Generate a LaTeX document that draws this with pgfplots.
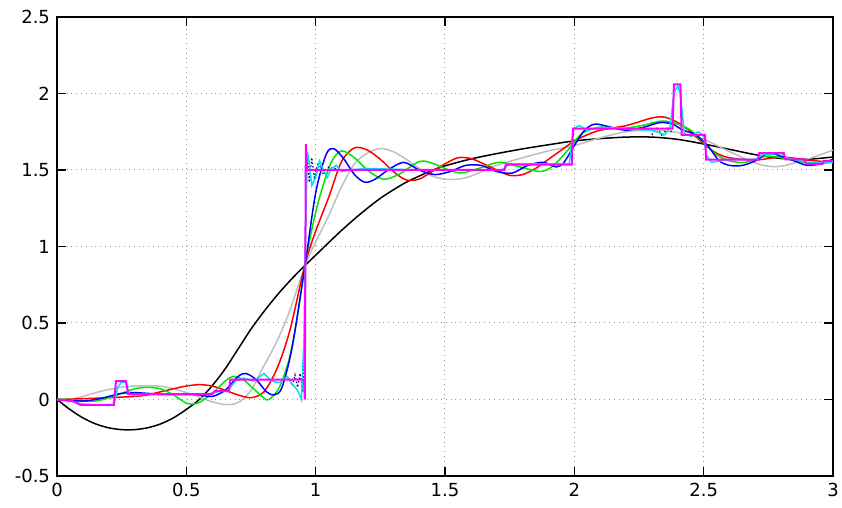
\documentclass[border=0pt]{standalone}
\usepackage{fontspec}
\setmainfont{DejaVu Sans}
\usepackage{pgfplots}
\pgfplotsset{compat=1.18}
\definecolor{lgray}{RGB}{190,190,190}
\definecolor{lgreen}{RGB}{0,230,0}
\definecolor{lcyan}{RGB}{0,225,240}
\definecolor{navy}{RGB}{0,0,128}
\definecolor{pmag}{RGB}{255,0,255}
\definecolor{pblue}{RGB}{0,0,255}
\definecolor{pred}{RGB}{255,0,0}
\begin{document}
\begin{tikzpicture}
\path[use as bounding box] (-28.5pt,-16pt) rectangle (392.5pt,238pt);
\begin{axis}[
  scale only axis,
  width=388pt, height=229.5pt,
  xmin=0, xmax=3, ymin=-0.5, ymax=2.5,
  xtick={0,0.5,...,3}, ytick={-0.5,0,...,2.5},
  tick align=inside,
  major tick length=4.5pt,
  grid=major,
  grid style={dotted, gray!80, line width=0.5pt},
  axis line style={line width=0.7pt},
  tick style={black, line width=0.6pt},
  ticklabel style={font=\fontsize{9}{11}\selectfont},
  /pgf/number format/assume math mode=true,
  every axis plot/.append style={line width=0.75pt},
]
% black
\addplot[black, smooth] coordinates {
(0,0) (0.05,-0.065) (0.1,-0.12) (0.15,-0.16) (0.2,-0.185) (0.25,-0.197) (0.3,-0.197)
(0.35,-0.185) (0.4,-0.16) (0.45,-0.12) (0.5,-0.065) (0.55,0.0) (0.6,0.09) (0.65,0.2)
(0.7,0.33) (0.75,0.46) (0.8,0.575) (0.85,0.68) (0.9,0.775) (0.95,0.862) (1.0,0.943)
(1.05,1.025) (1.1,1.105) (1.15,1.18) (1.2,1.25) (1.25,1.315) (1.3,1.37) (1.35,1.42)
(1.4,1.46) (1.45,1.497) (1.5,1.527) (1.6,1.572) (1.7,1.607) (1.8,1.638) (1.9,1.665)
(2.0,1.69) (2.1,1.705) (2.2,1.715) (2.3,1.715) (2.4,1.70) (2.5,1.67) (2.6,1.635)
(2.7,1.60) (2.8,1.575) (2.9,1.57) (3.0,1.585)
};
% gray
\addplot[lgray, smooth] coordinates {
(0,0) (0.05,0.0) (0.1,0.02) (0.15,0.045) (0.2,0.065) (0.25,0.08) (0.3,0.088) (0.35,0.09)
(0.4,0.087) (0.45,0.07) (0.5,0.045) (0.55,0.015) (0.6,-0.015) (0.65,-0.033) (0.7,-0.02)
(0.75,0.06) (0.8,0.22) (0.85,0.38) (0.9,0.58) (0.96,0.88) (1.0,1.03) (1.05,1.2)
(1.1,1.39) (1.15,1.54) (1.2,1.61) (1.25,1.64) (1.3,1.62) (1.35,1.57) (1.4,1.51)
(1.45,1.46) (1.5,1.44) (1.55,1.44) (1.6,1.46) (1.7,1.53) (1.8,1.58) (1.9,1.625)
(2.0,1.66) (2.1,1.71) (2.2,1.75) (2.3,1.76) (2.4,1.745) (2.5,1.70) (2.6,1.62)
(2.7,1.545) (2.75,1.525) (2.8,1.525) (2.9,1.57) (3.0,1.63)
};
% red
\addplot[pred, smooth] coordinates {
(0,0) (0.1,0.005) (0.2,0.012) (0.3,0.02) (0.35,0.03) (0.4,0.05) (0.45,0.07) (0.5,0.088)
(0.55,0.097) (0.6,0.088) (0.65,0.06) (0.7,0.03) (0.75,0.012) (0.8,0.05) (0.85,0.2)
(0.9,0.45) (0.96,0.89) (1.0,1.1) (1.05,1.32) (1.1,1.555) (1.15,1.645) (1.2,1.63)
(1.25,1.57) (1.3,1.49) (1.35,1.435) (1.4,1.44) (1.45,1.49) (1.5,1.54) (1.55,1.58)
(1.6,1.575) (1.65,1.54) (1.7,1.50) (1.75,1.465) (1.8,1.47) (1.85,1.51) (1.9,1.57)
(1.95,1.63) (2.0,1.69) (2.05,1.73) (2.1,1.76) (2.2,1.79) (2.3,1.84) (2.35,1.845)
(2.4,1.81) (2.45,1.75) (2.5,1.67) (2.55,1.61) (2.6,1.58) (2.7,1.565) (2.8,1.585)
(2.9,1.565) (3.0,1.55)
};
% green
\addplot[lgreen, smooth] coordinates {
(0,0) (0.05,0.0) (0.1,-0.01) (0.15,-0.01) (0.2,0.01) (0.25,0.04) (0.3,0.07) (0.35,0.08)
(0.4,0.07) (0.45,0.03) (0.5,-0.025) (0.52,-0.03) (0.55,-0.02) (0.6,0.04) (0.65,0.12)
(0.68,0.15) (0.72,0.13) (0.76,0.07) (0.8,0.01) (0.82,0.0) (0.86,0.08) (0.9,0.28)
(0.93,0.55) (0.96,0.89) (0.99,1.15) (1.02,1.35) (1.06,1.55) (1.1,1.625) (1.15,1.58)
(1.2,1.5) (1.26,1.44) (1.32,1.47) (1.4,1.555) (1.45,1.545) (1.5,1.51) (1.56,1.48)
(1.63,1.51) (1.71,1.55) (1.79,1.52) (1.87,1.49) (1.92,1.53) (1.98,1.64) (2.03,1.74)
(2.1,1.78) (2.18,1.77) (2.26,1.79) (2.34,1.82) (2.4,1.8) (2.45,1.76) (2.5,1.68)
(2.55,1.6) (2.6,1.56) (2.66,1.55) (2.74,1.59) (2.8,1.58) (2.88,1.55) (2.95,1.545) (3.0,1.55)
};
% blue
\addplot[pblue, smooth] coordinates {
(0,0) (0.05,-0.005) (0.1,-0.01) (0.15,0.0) (0.2,0.02) (0.25,0.04) (0.3,0.045) (0.4,0.035)
(0.5,0.035) (0.55,0.03) (0.6,0.02) (0.65,0.06) (0.7,0.15) (0.73,0.17) (0.77,0.13)
(0.81,0.05) (0.84,0.03) (0.87,0.08) (0.91,0.35) (0.96,0.89) (1.0,1.35) (1.04,1.6)
(1.07,1.64) (1.11,1.57) (1.15,1.47) (1.19,1.42) (1.23,1.44) (1.28,1.5) (1.34,1.55)
(1.4,1.5) (1.46,1.47) (1.52,1.49) (1.58,1.53) (1.64,1.53) (1.7,1.49) (1.76,1.48)
(1.82,1.53) (1.88,1.55) (1.93,1.52) (1.96,1.55) (2.0,1.66) (2.04,1.76) (2.08,1.8)
(2.14,1.78) (2.2,1.76) (2.27,1.78) (2.33,1.81) (2.38,1.8) (2.42,1.76) (2.47,1.73)
(2.52,1.65) (2.56,1.56) (2.6,1.53) (2.65,1.53) (2.7,1.56) (2.75,1.61) (2.8,1.59)
(2.85,1.56) (2.9,1.53) (2.95,1.54) (3.0,1.57)
};
% navy
\addplot[navy, densely dotted, line width=0.6pt] coordinates {
(0.9,0.13) (0.91,0.09) (0.92,0.16) (0.93,0.08) (0.94,0.17) (0.95,0.05) (0.955,0.3)
(0.962,1.3) (0.968,1.6) (0.975,1.42) (0.985,1.58) (0.995,1.45) (1.01,1.55) (1.03,1.47)
(1.05,1.52) (1.1,1.5)
};
\addplot[navy, densely dotted, line width=0.6pt] coordinates {
(2.3,1.73) (2.32,1.78) (2.34,1.72) (2.36,1.78) (2.38,1.74)
};
% cyan
\addplot[lcyan] coordinates {
(0,0) (0.05,-0.01) (0.1,-0.03) (0.15,-0.035) (0.2,-0.04) (0.22,-0.03) (0.235,0.08)
(0.25,0.115) (0.265,0.11) (0.28,0.04) (0.3,0.025) (0.35,0.035) (0.4,0.03) (0.5,0.03)
(0.58,0.035) (0.62,0.05) (0.66,0.06) (0.69,0.12) (0.72,0.14) (0.76,0.12) (0.8,0.17)
(0.83,0.12) (0.86,0.11) (0.89,0.15) (0.91,0.1) (0.93,0.06) (0.945,0.0) (0.955,0.4)
(0.962,1.2) (0.968,1.62) (0.975,1.55) (0.985,1.4) (1.0,1.45) (1.015,1.56) (1.03,1.5)
(1.045,1.45) (1.06,1.51) (1.08,1.53) (1.1,1.49) (1.13,1.5) (1.2,1.51) (1.4,1.5)
(1.6,1.5) (1.72,1.5) (1.75,1.54) (1.98,1.54) (1.985,1.6) (1.995,1.77) (2.02,1.79)
(2.05,1.76) (2.1,1.78) (2.2,1.77) (2.3,1.76) (2.35,1.73) (2.37,1.78) (2.385,2.0)
(2.4,2.05) (2.41,2.0) (2.425,1.74) (2.45,1.72) (2.48,1.75) (2.5,1.72) (2.51,1.6)
(2.53,1.55) (2.6,1.57) (2.7,1.57) (2.73,1.6) (2.8,1.61) (2.82,1.58) (2.9,1.55) (3.0,1.55)
};
% magenta
\addplot[pmag, line width=1pt] coordinates {
(0,0) (0.06,-0.01) (0.09,-0.035) (0.22,-0.035) (0.228,0.12) (0.267,0.12) (0.275,0.035)
(0.6,0.035) (0.61,0.055) (0.665,0.055) (0.67,0.13) (0.955,0.13) (0.958,0.0)
(0.962,1.67) (0.967,1.5) (1.73,1.5) (1.735,1.535) (1.99,1.535) (1.995,1.77)
(2.38,1.77) (2.385,2.06) (2.41,2.06) (2.415,1.73) (2.505,1.73) (2.51,1.567)
(2.71,1.567) (2.715,1.61) (2.81,1.61) (2.815,1.57) (2.89,1.57) (2.895,1.54)
(2.96,1.54) (2.965,1.56) (3.0,1.56)
};
\end{axis}
\end{tikzpicture}
\end{document}
